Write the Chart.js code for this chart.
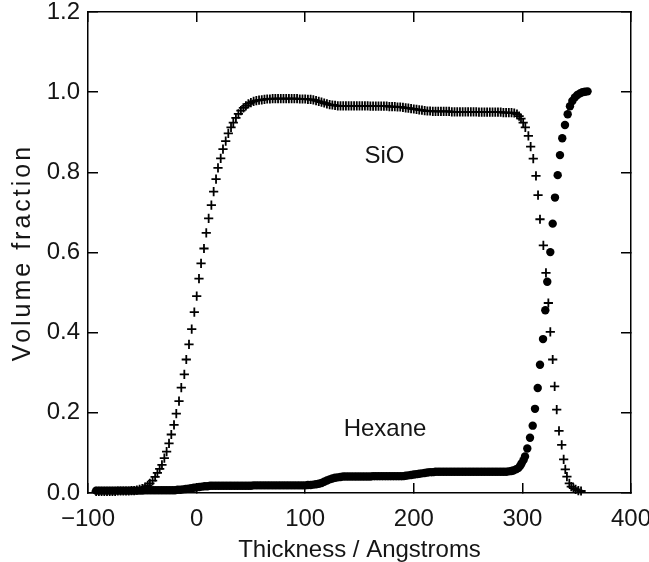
<!DOCTYPE html>
<html>
<head>
<meta charset="utf-8">
<script src="https://cdn.jsdelivr.net/npm/chart.js@4/dist/chart.umd.min.js"></script>
<style>
html,body{margin:0;padding:0;background:#fff;}
#wrap{width:649px;height:562px;}
</style>
</head>
<body>
<div id="wrap"><canvas id="c" width="649" height="562"></canvas></div>
<script>
// ---- Data ----
const sioX = [
  -92.5,-90,-87.5,-85,-82.5,-80,-77.5,-75,-72.5,-70,-67.5,-65,-62.5,-60,-57.5,-55,-52.5,-50,
  -47.5,-45,-43,-40.5,-38.2,-36.1,-34,-31.9,-29.7,-27.6,-25.4,-23.3,-20.8,-18.7,-16.2,-14.1,-11.3,-9.5,-7,-4.5,-2.1,0.1,
  2.2,4.1,6.8,8.9,11.1,13.6,15.7,17.9,19.7,22.2,24.3,26.8,29.2,31.7,33.8,36.2,38.5,40.8,43.1,45.4,47.7,
  50,52.5,55,57.5,60,62.5,65,67.5,70,72.5,
  75,77.5,80,82.5,85,87.5,90,92.5,95,97.5,
  100,102.5,105,107.5,110,112.5,115,117.5,120,122.5,
  125,127.5,130,132.5,135,137.5,140,142.5,145,147.5,
  150,152.5,155,157.5,160,162.5,165,167.5,170,172.5,
  175,177.5,180,182.5,185,187.5,190,192.5,195,197.5,
  200,202.5,205,207.5,210,212.5,215,217.5,220,222.5,
  225,227.5,230,232.5,235,237.5,240,242.5,245,247.5,
  250,252.5,255,257.5,260,262.5,265,267.5,270,272.5,
  275,277.5,280,282.5,285,287.5,290,292.5,
  295,297,298.7,300.7,302.7,305.5,307.6,310,312.5,314.4,
  316.2,319.3,321.7,323.9,325.7,327.9,329.7,331.6,333.7,336.2,
  338,339.5,341,343.2,345,347,349,351.5,354
];
const sioY = [
  0.004,0.004,0.004,0.004,0.004,0.004,0.004,0.004,0.005,0.005,0.005,0.005,0.005,0.006,0.006,0.007,0.009,0.011,
  0.015,0.019,0.024,0.031,0.040,0.050,0.060,0.070,0.087,0.103,0.124,0.146,0.170,0.198,0.229,0.263,0.296,0.333,0.371,0.409,0.451,0.491,
  0.535,0.573,0.610,0.649,0.685,0.718,0.752,0.783,0.811,0.835,0.858,0.878,0.897,0.912,0.924,0.936,0.946,0.954,0.961,0.966,0.971,
  0.974,0.977,0.979,0.980,0.981,0.982,0.983,0.983,0.984,0.984,
  0.984,0.984,0.984,0.984,0.984,0.984,0.984,0.984,0.983,0.983,
  0.983,0.982,0.982,0.981,0.979,0.977,0.975,0.973,0.971,0.969,
  0.968,0.967,0.966,0.966,0.966,0.966,0.966,0.966,0.966,0.966,
  0.966,0.966,0.966,0.966,0.965,0.965,0.965,0.965,0.965,0.965,
  0.965,0.964,0.964,0.964,0.963,0.963,0.962,0.961,0.960,0.959,
  0.958,0.957,0.956,0.955,0.954,0.953,0.953,0.952,0.952,0.952,
  0.952,0.952,0.952,0.952,0.951,0.951,0.951,0.951,0.951,0.951,
  0.951,0.951,0.951,0.951,0.950,0.950,0.950,0.950,0.950,0.950,
  0.950,0.950,0.950,0.949,0.949,0.949,0.949,0.948,
  0.945,0.940,0.934,0.924,0.912,0.891,0.864,0.834,0.791,0.743,
  0.683,0.618,0.549,0.474,0.402,0.333,0.266,0.208,0.155,0.120,
  0.084,0.059,0.041,0.024,0.016,0.012,0.009,0.006,0.005
];
const hexX = [
  -92.5,-90,-87.5,-85,-82.5,-80,-77.5,-75,-72.5,-70,
  -67.5,-65,-62.5,-60,-57.5,-55,-52.5,-50,-47.5,-45,
  -42.5,-40,-37.5,-35,-32.5,-30,-27.5,-25,-22.5,-20,
  -17.5,-15,-12.5,-10,-7.5,-5,-2.5,0,2.5,5,
  7.5,10,12.5,
  15,17.5,20,22.5,25,27.5,30,32.5,35,37.5,
  40,42.5,45,47.5,50,52.5,55,57.5,60,62.5,
  65,67.5,70,72.5,75,77.5,80,82.5,85,87.5,
  90,92.5,95,97.5,100,102.5,105,107.5,110,112.5,
  115,117.5,120,122.5,125,127.5,130,132.5,135,137.5,
  140,142.5,145,147.5,150,152.5,155,157.5,160,162.5,
  165,167.5,170,172.5,175,177.5,180,182.5,185,187.5,
  190,192.5,195,197.5,200,202.5,205,207.5,210,212.5,
  215,217.5,220,222.5,225,227.5,230,232.5,235,237.5,
  240,242.5,245,247.5,250,252.5,255,257.5,260,262.5,
  265,267.5,270,272.5,275,277.5,280,282.5,285,
  287.5,289.8,291.6,294,296.2,298,299.3,301,302.4,304.5,
  307,309.5,311.6,314.1,316.2,319,321.1,322.9,325.7,327.9,
  330,332.5,334.6,336.7,339.2,341.7,343.8,346,348.3,350.6,
  353,355.3,357.6,360
];
const hexY = [
  0.006,0.006,0.006,0.006,0.006,0.006,0.006,0.006,0.006,0.006,
  0.006,0.006,0.006,0.006,0.006,0.006,0.006,0.006,0.007,0.007,
  0.007,0.007,0.007,0.007,0.007,0.007,0.007,0.007,0.007,0.007,
  0.008,0.008,0.009,0.010,0.011,0.012,0.013,0.014,0.015,0.016,
  0.017,0.017,0.018,
  0.018,0.018,0.018,0.018,0.018,0.018,0.018,0.018,0.018,0.018,
  0.018,0.018,0.018,0.018,0.018,0.019,0.019,0.019,0.019,0.019,
  0.019,0.019,0.019,0.019,0.019,0.019,0.019,0.019,0.019,0.019,
  0.019,0.019,0.019,0.019,0.019,0.020,0.020,0.021,0.022,0.023,
  0.025,0.028,0.031,0.034,0.036,0.038,0.039,0.040,0.041,0.041,
  0.041,0.041,0.041,0.041,0.041,0.041,0.041,0.041,0.041,0.042,
  0.042,0.042,0.042,0.042,0.042,0.042,0.042,0.042,0.042,0.042,
  0.042,0.043,0.044,0.045,0.046,0.047,0.048,0.049,0.050,0.051,
  0.052,0.052,0.053,0.053,0.053,0.053,0.053,0.053,0.053,0.053,
  0.053,0.053,0.053,0.053,0.053,0.053,0.053,0.053,0.053,0.053,
  0.053,0.053,0.053,0.053,0.053,0.053,0.053,0.053,0.053,
  0.054,0.055,0.056,0.059,0.062,0.068,0.074,0.082,0.091,0.111,
  0.138,0.168,0.210,0.262,0.320,0.384,0.456,0.527,0.601,0.672,
  0.737,0.793,0.843,0.885,0.918,0.945,0.965,0.978,0.987,0.993,
  0.997,1.000,1.001,1.002
];
const xTicks = [-100, 0, 100, 200, 300, 400];
const yTicks = [0, 0.2, 0.4, 0.6, 0.8, 1.0, 1.2];
const seriesNames = ['SiO', 'Hexane'];
const notes = [
  { text: 'SiO', x: 173, y: 0.84 },
  { text: 'Hexane', x: 173.5, y: 0.158 }
];
const xTitle = 'Thickness / Angstroms';
const yTitle = 'Volume fraction';

// ---- Chart ----
const FONT = '"Liberation Sans", Arial, sans-serif';
const INK = '#151515';

const toPts = (xs, ys) => xs.map((v, i) => ({ x: v, y: ys[i] }));

const notesPlugin = {
  id: 'notes',
  afterDatasetsDraw(chart) {
    const { ctx, scales } = chart;
    ctx.save();
    ctx.font = '24px ' + FONT;
    ctx.fillStyle = INK;
    ctx.textAlign = 'center';
    ctx.textBaseline = 'middle';
    notes.forEach(n => ctx.fillText(n.text, scales.x.getPixelForValue(n.x), scales.y.getPixelForValue(n.y)));
    ctx.restore();
  }
};

// wider letter spacing for the vertical title (the original uses a wide plotter font)
function spacedTitle(s) {
  if (s.__spaced) return;
  const orig = s.drawTitle.bind(s);
  s.drawTitle = function () {
    const ctx = this.ctx;
    ctx.save();
    if ('letterSpacing' in ctx) ctx.letterSpacing = '3px';
    orig();
    ctx.restore();
  };
  s.__spaced = true;
}

const tickGrid = { display: true, drawOnChartArea: false, drawTicks: true, tickLength: -10, color: '#000', lineWidth: 1.5 };
const frameBorder = { display: true, color: '#000', width: 1.5 };

new Chart(document.getElementById('c'), {
  type: 'scatter',
  data: {
    datasets: [
      {
        label: seriesNames[0],
        data: toPts(sioX, sioY),
        pointStyle: 'cross',
        pointRadius: 4.6,
        pointBorderWidth: 1.8,
        borderColor: '#000',
        backgroundColor: '#000',
        showLine: false
      },
      {
        label: seriesNames[1],
        data: toPts(hexX, hexY),
        pointStyle: 'circle',
        pointRadius: 4.2,
        pointBorderWidth: 0,
        borderColor: '#000',
        backgroundColor: '#000',
        showLine: false
      }
    ]
  },
  options: {
    responsive: false,
    devicePixelRatio: 1,
    animation: false,
    events: [],
    clip: false,
    layout: { padding: { top: 12, right: 18, left: 0, bottom: 0 } },
    plugins: { legend: { display: false }, tooltip: { enabled: false } },
    scales: {
      x: {
        type: 'linear', position: 'bottom', min: -100, max: 400,
        afterBuildTicks: s => { s.ticks = xTicks.map(v => ({ value: v })); },
        afterFit: s => { s.height = 69; s.paddingRight = 0; s.paddingLeft = 0; },
        ticks: {
          font: { family: FONT, size: 24 }, color: INK, padding: 22, maxRotation: 0,
          callback: v => (v < 0 ? '\u2212' + Math.abs(v) : String(v))
        },
        grid: tickGrid,
        border: frameBorder,
        title: { display: true, text: xTitle, color: INK, font: { family: FONT, size: 24, lineHeight: 1 }, padding: 0 }
      },
      y: {
        type: 'linear', position: 'left', min: 0, max: 1.2,
        afterBuildTicks: s => { s.ticks = yTicks.map(v => ({ value: v })); },
        afterFit: s => { s.width = 88; s.paddingTop = 0; s.paddingBottom = 0; spacedTitle(s); },
        ticks: {
          font: { family: FONT, size: 24 }, color: INK, padding: 18,
          callback: v => Number(v).toFixed(1)
        },
        grid: tickGrid,
        border: frameBorder,
        title: { display: true, text: yTitle, color: INK, font: { family: FONT, size: 25, lineHeight: 1 }, padding: { top: 11, bottom: 0 } }
      },
      x2: {
        type: 'linear', position: 'top', min: -100, max: 400,
        afterBuildTicks: s => { s.ticks = xTicks.map(v => ({ value: v })); },
        afterFit: s => { s.height = 0; s.paddingLeft = 0; s.paddingRight = 0; },
        ticks: { display: false },
        grid: tickGrid,
        border: frameBorder
      },
      y2: {
        type: 'linear', position: 'right', min: 0, max: 1.2,
        afterBuildTicks: s => { s.ticks = yTicks.map(v => ({ value: v })); },
        afterFit: s => { s.width = 0; s.paddingTop = 0; s.paddingBottom = 0; },
        ticks: { display: false },
        grid: tickGrid,
        border: frameBorder
      }
    }
  },
  plugins: [notesPlugin]
});
</script>
</body>
</html>
